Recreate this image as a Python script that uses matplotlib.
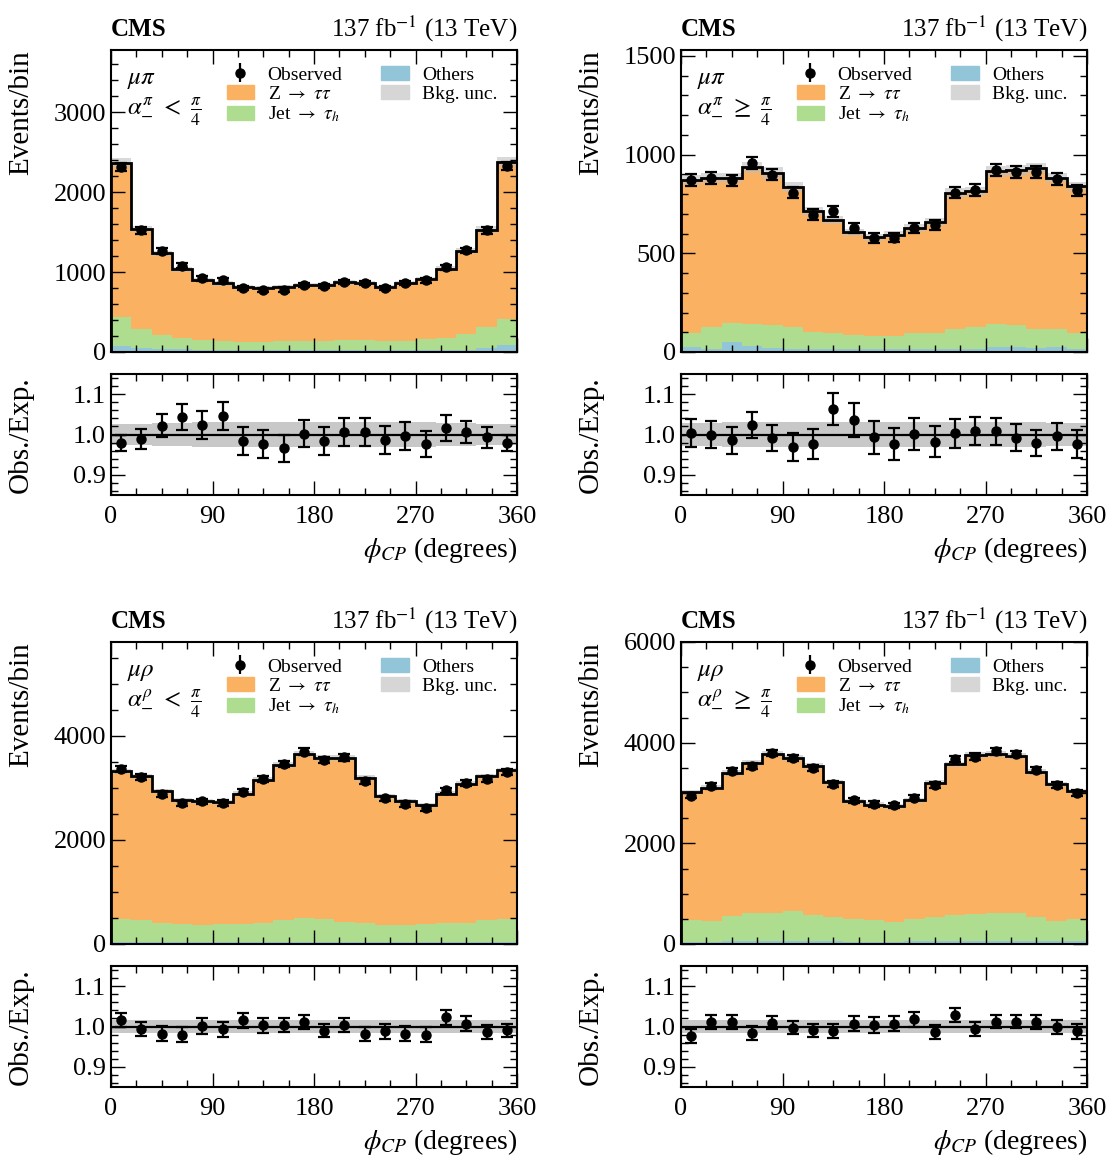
import numpy as np
import matplotlib
matplotlib.use("Agg")
import matplotlib.pyplot as plt
from matplotlib.ticker import AutoMinorLocator, MultipleLocator

plt.rcParams['font.family'] = ['Liberation Serif', 'DejaVu Serif']
plt.rcParams['mathtext.fontset'] = 'stix'

edges = np.arange(0, 361, 18)

# mu pi, alpha < pi/4
tl_z = [1934, 1255, 1025, 854, 750, 716, 684, 667, 671, 696, 696, 721, 708, 671, 734, 759, 863, 1042, 1216, 1958]
tl_jet = [358, 237, 175, 139, 125, 112, 104, 104, 112, 117, 117, 125, 125, 117, 108, 133, 154, 191, 272, 334]
tl_oth = [75, 46, 33, 40, 25, 30, 25, 25, 25, 25, 25, 25, 25, 25, 25, 25, 25, 30, 45, 83]
tl_obs = [2317, 1521, 1260, 1078, 921, 897, 800, 777, 780, 840, 825, 876, 863, 801, 864, 896, 1059, 1271, 1522, 2325]
tl_unc = [0.026, 0.027, 0.028, 0.029, 0.030, 0.030, 0.031, 0.031, 0.031, 0.031,
          0.031, 0.031, 0.031, 0.030, 0.030, 0.030, 0.029, 0.028, 0.027, 0.026]

# mu pi, alpha >= pi/4
tr_z = [775, 757, 736, 797, 772, 709, 610, 575, 518, 499, 513, 533, 562, 687, 685, 773, 783, 814, 767, 741]
tr_jet = [71, 108, 97, 110, 116, 111, 88, 81, 74, 69, 67, 81, 81, 104, 115, 115, 113, 99, 91, 84]
tr_oth = [24, 17, 49, 30, 19, 14, 14, 14, 14, 14, 14, 14, 14, 14, 14, 27, 24, 19, 24, 14]
tr_obs = [873, 882, 869, 959, 899, 808, 696, 713, 628, 578, 580, 629, 645, 807, 821, 922, 913, 912, 878, 819]
tr_unc = [0.028, 0.029, 0.030, 0.030, 0.031, 0.031, 0.031, 0.031, 0.031, 0.031,
          0.031, 0.031, 0.031, 0.031, 0.030, 0.030, 0.030, 0.030, 0.029, 0.028]

# mu rho, alpha < pi/4
bl_z = [2840, 2756, 2519, 2371, 2372, 2339, 2500, 2744, 2980, 3160, 3090, 3141, 2776, 2468, 2372, 2282, 2488, 2680, 2756, 2859]
bl_jet = [439, 432, 380, 355, 335, 350, 350, 375, 422, 454, 441, 395, 375, 335, 335, 348, 367, 362, 427, 434]
bl_oth = [35, 30, 30, 30, 30, 35, 35, 35, 40, 40, 40, 35, 35, 30, 30, 30, 30, 35, 35, 40]
bl_obs = [3370, 3199, 2876, 2701, 2740, 2705, 2928, 3163, 3452, 3694, 3535, 3582, 3129, 2799, 2688, 2607, 2951, 3099, 3173, 3300]
bl_unc = [0.016, 0.016, 0.016, 0.017, 0.017, 0.017, 0.017, 0.016, 0.016, 0.016,
          0.016, 0.016, 0.017, 0.017, 0.017, 0.017, 0.016, 0.016, 0.016, 0.016]

# mu rho, alpha >= pi/4
br_z = [2539, 2645, 2844, 2976, 3142, 3043, 2957, 2684, 2345, 2293, 2299, 2365, 2671, 2990, 3150, 3170, 3123, 2870, 2704, 2545]
br_jet = [433, 413, 503, 565, 565, 593, 523, 482, 447, 433, 394, 442, 482, 523, 538, 551, 551, 490, 415, 442]
br_oth = [45, 45, 55, 60, 60, 65, 55, 50, 45, 45, 45, 50, 50, 55, 60, 60, 60, 55, 50, 50]
br_obs = [2945, 3137, 3439, 3543, 3801, 3690, 3500, 3177, 2857, 2782, 2757, 2908, 3158, 3671, 3725, 3826, 3779, 3453, 3163, 3001]
br_unc = [0.016, 0.016, 0.016, 0.016, 0.016, 0.016, 0.016, 0.016, 0.017, 0.017,
          0.017, 0.017, 0.016, 0.016, 0.016, 0.016, 0.016, 0.016, 0.016, 0.016]

channels = [r'$\mu\pi$', r'$\mu\pi$', r'$\mu\rho$', r'$\mu\rho$']
cuts = [r'$\alpha^{\pi}_{-}\ <\ \frac{\pi}{4}$', r'$\alpha^{\pi}_{-}\ \geq\ \frac{\pi}{4}$',
        r'$\alpha^{\rho}_{-}\ <\ \frac{\pi}{4}$', r'$\alpha^{\rho}_{-}\ \geq\ \frac{\pi}{4}$']
ymax = [3780, 1530, 5800, 6000]
ystep = [1000, 500, 2000, 2000]

c_z = '#fab162'
c_jet = '#aedd8f'
c_oth = '#92c5d7'
c_unc = '#c8c8c8'

panels = [
    (tl_z, tl_jet, tl_oth, tl_obs, tl_unc),
    (tr_z, tr_jet, tr_oth, tr_obs, tr_unc),
    (bl_z, bl_jet, bl_oth, bl_obs, bl_unc),
    (br_z, br_jet, br_oth, br_obs, br_unc),
]

W, H = 1107, 1155
fig = plt.figure(figsize=(W / 100, H / 100), dpi=100)

lefts = [111, 681, 111, 681]
tops = [50, 50, 642, 642]
aw, mh, rh, gap = 406, 302, 121, 22

centers = 0.5 * (edges[:-1] + edges[1:])


def style(ax):
    ax.tick_params(which='both', direction='in', top=True, right=True, labelsize=19, width=1.0)
    ax.tick_params(which='major', length=10)
    ax.tick_params(which='minor', length=5)
    for s in ax.spines.values():
        s.set_linewidth(1.5)
    ax.xaxis.set_minor_locator(AutoMinorLocator())
    ax.yaxis.set_minor_locator(AutoMinorLocator())


for i, (z, jet, oth, obs, unc) in enumerate(panels):
    z, jet, oth, obs, unc = map(np.array, (z, jet, oth, obs, unc))
    total = z + jet + oth
    x0 = lefts[i] / W
    axm = fig.add_axes([x0, 1 - (tops[i] + mh) / H, aw / W, mh / H])
    axr = fig.add_axes([x0, 1 - (tops[i] + mh + gap + rh) / H, aw / W, rh / H])

    axm.hist([centers] * 3, bins=edges, weights=[oth, jet, z], stacked=True,
             histtype='stepfilled', color=[c_oth, c_jet, c_z])
    axm.stairs(total * (1 + unc), edges, baseline=total * (1 - unc), fill=True,
               color='#c0c0c0', alpha=0.6, lw=0)
    axm.stairs(total, edges, color='k', lw=2)
    axm.errorbar(centers, obs, yerr=np.sqrt(obs), fmt='o', color='k', ms=6.5,
                 elinewidth=1.6, capsize=4, capthick=1.6)

    axm.set_xlim(0, 360)
    axm.set_ylim(0, ymax[i])
    axm.yaxis.set_major_locator(MultipleLocator(ystep[i]))
    axm.xaxis.set_major_locator(MultipleLocator(90))
    style(axm)
    axm.tick_params(labelbottom=False)
    axm.set_ylabel('Events/bin', fontsize=21, loc='top')
    axm.yaxis.set_label_coords(-0.19, 1.0)

    axm.text(0.0, 1.046, 'CMS', transform=axm.transAxes, fontsize=18,
             fontweight='bold', ha='left', va='baseline')
    axm.text(1.0, 1.046, r'137 fb$^{-1}$ (13 TeV)', transform=axm.transAxes,
             fontsize=18, ha='right', va='baseline')
    axm.text(0.04, 0.9, channels[i], transform=axm.transAxes, fontsize=18, va='center')
    axm.text(0.04, 0.795, cuts[i], transform=axm.transAxes, fontsize=18, va='center')

    h_obs = axm.errorbar([], [], yerr=[], fmt='o', color='k', ms=6.5,
                         elinewidth=1.6, capsize=4, capthick=1.6)
    handles = [
        h_obs,
        plt.Rectangle((0, 0), 1, 1, color=c_z),
        plt.Rectangle((0, 0), 1, 1, color=c_jet),
        plt.Rectangle((0, 0), 1, 1, color=c_oth),
        plt.Rectangle((0, 0), 1, 1, color='#d6d6d6'),
    ]
    labels = ['Observed', r'Z $\rightarrow$ $\tau\tau$', r'Jet $\rightarrow$ $\tau_h$',
              'Others', 'Bkg. unc.']
    axm.legend(handles, labels, ncol=2, loc='upper left', bbox_to_anchor=(0.285, 0.948),
               frameon=False, fontsize=14, borderpad=0, borderaxespad=0,
               handlelength=1.4, handleheight=0.75, handletextpad=0.7,
               labelspacing=0.08, columnspacing=2.0)

    ratio = obs / total
    axr.stairs(1 + unc, edges, baseline=1 - unc, fill=True, color=c_unc, lw=0)
    axr.axhline(1.0, color='k', lw=1.6)
    axr.errorbar(centers, ratio, yerr=np.sqrt(obs) / total, fmt='o', color='k', ms=6.5,
                 elinewidth=1.6, capsize=4, capthick=1.6)
    axr.set_xlim(0, 360)
    axr.set_ylim(0.85, 1.15)
    axr.set_yticks([0.9, 1.0, 1.1])
    axr.xaxis.set_major_locator(MultipleLocator(90))
    style(axr)
    axr.tick_params(axis='x', pad=8)
    axr.set_ylabel('Obs./Exp.', fontsize=21)
    axr.yaxis.set_label_coords(-0.19, 0.5)
    axr.set_xlabel(r'$\phi_{CP}$ (degrees)', fontsize=20, loc='right')
    axr.xaxis.set_label_coords(1.0, -0.33)

fig.savefig('out.png', dpi=100)
